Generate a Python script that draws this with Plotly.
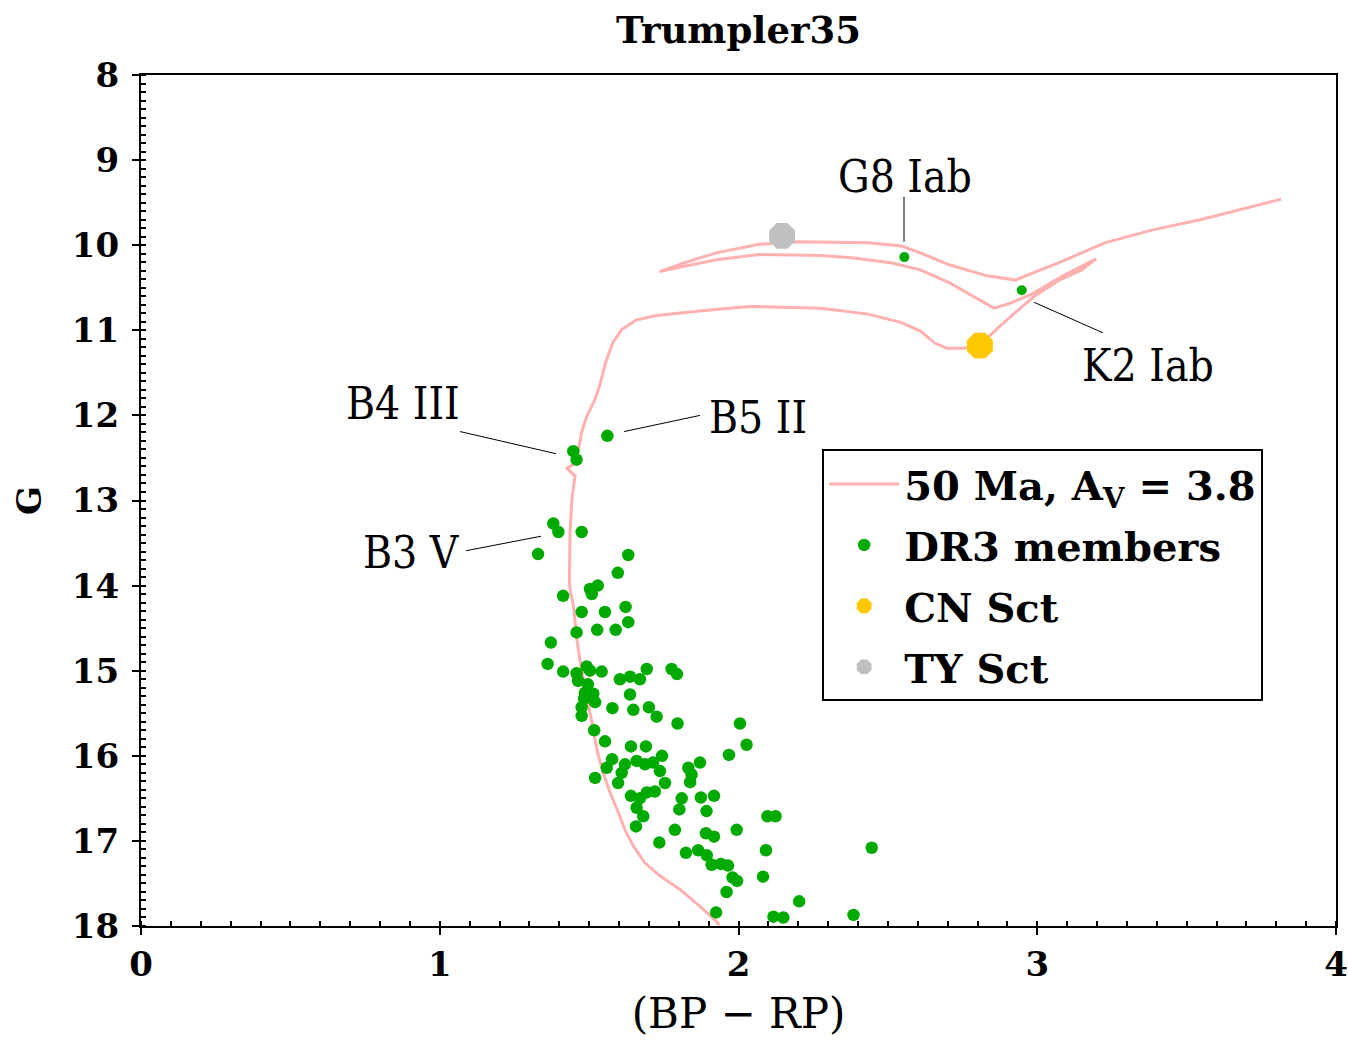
import plotly.graph_objects as go

# ---- Isochrone: 50 Ma, Av = 3.8 (BP-RP, G) ----
iso_bprp = [1.935, 1.927, 1.871, 1.804, 1.737, 1.687, 1.648, 1.620, 1.598, 1.570,
            1.547, 1.531, 1.520, 1.503, 1.486, 1.469, 1.459, 1.447, 1.436, 1.434,
            1.436, 1.442, 1.453, 1.426, 1.453, 1.464, 1.475, 1.492, 1.520, 1.536,
            1.556, 1.580, 1.610, 1.657, 1.720, 1.877, 2.038, 2.276, 2.434, 2.546,
            2.609, 2.657, 2.697, 2.752, 2.808, 2.863, 2.927, 2.990, 3.069, 3.149,
            3.197, 3.086, 2.990, 2.911, 2.855, 2.784, 2.705, 2.609, 2.514, 2.387,
            2.276, 2.069, 1.926, 1.815, 1.736, 1.815, 1.926, 2.069, 2.196, 2.434,
            2.546, 2.609, 2.705, 2.832, 2.927, 2.990, 3.069, 3.228, 3.387, 3.545,
            3.816]
iso_g = [17.99, 17.95, 17.77, 17.57, 17.41, 17.26, 17.06, 16.87, 16.67, 16.43,
         16.20, 16.00, 15.81, 15.49, 15.18, 14.87, 14.63, 14.22, 14.05, 13.93,
         13.38, 12.99, 12.71, 12.62, 12.56, 12.40, 12.20, 12.01, 11.81, 11.64,
         11.37, 11.14, 10.99, 10.88, 10.83, 10.77, 10.72, 10.74, 10.81, 10.91,
         11.01, 11.15, 11.21, 11.21, 11.18, 10.99, 10.79, 10.60, 10.42, 10.29,
         10.16, 10.36, 10.56, 10.68, 10.74, 10.60, 10.44, 10.29, 10.21, 10.15,
         10.12, 10.11, 10.17, 10.25, 10.31, 10.21, 10.09, 9.99, 9.96, 9.97,
         10.01, 10.09, 10.23, 10.36, 10.41, 10.32, 10.21, 9.97, 9.82, 9.70,
         9.46]

# ---- Gaia DR3 members ----
dr3_bprp = [1.561, 1.447, 1.458, 1.380, 1.397, 1.475, 1.329, 1.631, 1.596, 1.503,
            1.529, 1.509, 1.413, 1.475, 1.553, 1.622, 1.631, 1.458, 1.527, 1.589,
            1.372, 1.361, 1.413, 1.458, 1.463, 1.492, 1.503, 1.542, 1.496, 1.486,
            1.514, 1.483, 1.520, 1.475, 1.475, 1.603, 1.637, 1.670, 1.637, 1.693,
            1.776, 1.794, 1.578, 1.648, 1.700, 1.726, 1.796, 2.005, 1.517, 1.553,
            1.640, 1.690, 2.027, 1.968, 1.744, 1.577, 1.559, 1.620, 1.659, 1.687,
            1.714, 1.520, 1.609, 1.597, 1.737, 1.754, 1.640, 1.670, 1.693, 1.720,
            1.659, 1.681, 1.657, 1.832, 1.871, 1.838, 1.843, 1.810, 1.802, 1.874,
            1.918, 1.893, 1.787, 1.994, 1.891, 1.918, 2.097, 2.124, 1.735, 1.824,
            1.865, 1.894, 1.910, 1.941, 1.965, 1.980, 1.995, 1.960, 2.092, 2.082,
            2.446, 2.203, 1.925, 2.117, 2.150, 2.385, 2.555, 2.948]
dr3_g = [12.24, 12.42, 12.52, 13.27, 13.37, 13.37, 13.63, 13.64, 13.85, 14.04,
         14.00, 14.10, 14.12, 14.31, 14.31, 14.25, 14.43, 14.55, 14.52, 14.52,
         14.67, 14.92, 15.01, 15.03, 15.12, 14.95, 15.00, 15.01, 15.16, 15.26,
         15.27, 15.33, 15.37, 15.43, 15.53, 15.10, 15.07, 15.10, 15.28, 14.98,
         14.98, 15.04, 15.44, 15.46, 15.43, 15.54, 15.62, 15.62, 15.70, 15.83,
         15.89, 15.89, 15.87, 15.99, 16.00, 16.04, 16.14, 16.10, 16.06, 16.10,
         16.08, 16.26, 16.20, 16.32, 16.18, 16.32, 16.47, 16.50, 16.43, 16.42,
         16.61, 16.71, 16.83, 16.14, 16.08, 16.31, 16.22, 16.50, 16.63, 16.49,
         16.47, 16.65, 16.87, 16.87, 16.91, 16.95, 16.71, 16.71, 17.02, 17.14,
         17.11, 17.17, 17.28, 17.27, 17.29, 17.43, 17.47, 17.60, 17.11, 17.42,
         17.08, 17.71, 17.84, 17.89, 17.90, 17.87, 10.14, 10.53]
dr3_size = [12.5] * (len(dr3_g) - 2) + [10, 10]

# ---- Cepheids ----
cn_sct_bprp = [2.808]
cn_sct_g = [11.18]
ty_sct_bprp = [2.146]
ty_sct_g = [9.89]

# ---- Spectral-type labels ----
label_text = ["G8 Iab", "K2 Iab", "B5 II", "B4 III", "B3 V"]
label_x = [2.557, 3.371, 2.065, 0.877, 0.904]
label_y = [9.19, 11.41, 12.03, 11.86, 13.61]
leader_x0 = [2.554, 2.989, 1.617, 1.068, 1.088]
leader_y0 = [9.43, 10.67, 12.19, 12.19, 13.59]
leader_x1 = [2.554, 3.220, 1.871, 1.389, 1.339]
leader_y1 = [9.96, 11.03, 12.00, 12.45, 13.42]

SERIF = "DejaVu Serif"
fig = go.Figure()

fig.add_trace(go.Scatter(
    x=iso_bprp, y=iso_g, mode="lines",
    line=dict(color="#ffb0b0", width=3),
    name="50 Ma, A<sub>V</sub> = 3.8", legendgroup="a"))
fig.add_trace(go.Scatter(
    x=dr3_bprp, y=dr3_g, mode="markers",
    marker=dict(color="#00aa00", size=dr3_size, opacity=1, line=dict(width=0)),
    name="DR3 members", legendgroup="b"))
fig.add_trace(go.Scatter(
    x=cn_sct_bprp, y=cn_sct_g, mode="markers",
    marker=dict(color="#ffc800", size=28, symbol="octagon", opacity=1, line=dict(width=0)),
    name="CN Sct", legendgroup="c"))
fig.add_trace(go.Scatter(
    x=ty_sct_bprp, y=ty_sct_g, mode="markers",
    marker=dict(color="#c0c0c0", size=28, symbol="octagon", opacity=1, line=dict(width=0)),
    name="TY Sct", legendgroup="d"))

shapes = []
for x0, y0, x1, y1 in zip(leader_x0, leader_y0, leader_x1, leader_y1):
    shapes.append(dict(type="line", xref="x", yref="y", x0=x0, y0=y0, x1=x1, y1=y1,
                       line=dict(color="black", width=1)))

annotations = []
for t, x, y in zip(label_text, label_x, label_y):
    annotations.append(dict(x=x, y=y, xref="x", yref="y", text=t, showarrow=False,
                            xanchor="center", yanchor="middle",
                            font=dict(family="DejaVu Serif Condensed, DejaVu Serif",
                                      size=44, color="black")))

axis_common = dict(
    showline=True, linecolor="black", linewidth=2, mirror=True,
    showgrid=False, zeroline=False,
    ticks="outside", ticklen=7, tickwidth=2, tickcolor="black",
    tickfont=dict(family=SERIF, size=34, color="black", weight="bold"),
    automargin=False,
)

fig.update_layout(
    width=1348, height=1042,
    margin=dict(l=141, r=12, t=75, b=116, autoexpand=False),
    plot_bgcolor="white", paper_bgcolor="white",
    title=dict(text="<b>Trumpler35</b>", x=(141 + 1336) / 2 / 1348, xanchor="center",
               y=1 - 30 / 1042, yanchor="middle", yref="container",
               font=dict(family=SERIF, size=37, color="black")),
    xaxis=dict(range=[0, 4], dtick=1, tick0=0,
               minor=dict(ticks="inside", dtick=0.1, ticklen=5, tickwidth=1.5, tickcolor="black"),
               title=dict(text="(BP − RP)", standoff=16,
                          font=dict(family=SERIF, size=42, color="black")),
               **axis_common),
    yaxis=dict(range=[18, 8], dtick=1, tick0=8,
               minor=dict(ticks="inside", dtick=0.1, ticklen=5, tickwidth=1.5, tickcolor="black"),
               ticklabelstandoff=6,
               title=dict(text="<b>G</b>", standoff=20,
                          font=dict(family=SERIF, size=34, color="black")),
               **axis_common),
    legend=dict(x=0.570, y=0.560, xanchor="left", yanchor="top",
                bgcolor="white", bordercolor="black", borderwidth=2,
                font=dict(family=SERIF, size=40, color="black", weight="bold"),
                tracegroupgap=6, traceorder="grouped", itemwidth=70),
    shapes=shapes,
    annotations=annotations,
    showlegend=True,
)

fig.write_html("out.html")
